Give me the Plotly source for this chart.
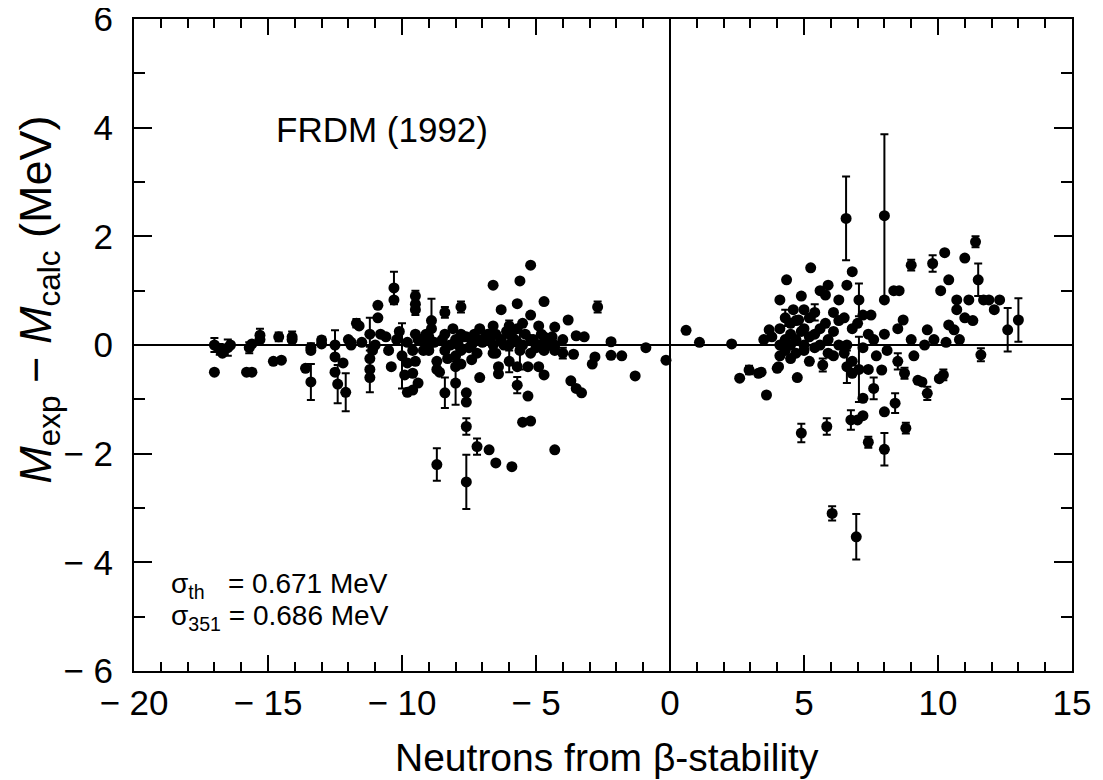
import plotly.graph_objects as go

# ---- data ----
# proton-rich side (negative neutron excess)
left_n = [-17.0,-17.0,-16.8,-16.7,-16.5,-16.4,-15.8,-15.6,-15.7,-15.6,-15.3,-15.3,
          -14.8,-14.5,-14.6,-14.1,-14.1,-13.6,-13.4,-13.4,-13.4,-13.0,-13.0,
          -12.5,-12.5,-12.5,-12.4,-12.2,-12.1,-11.9,-11.9,-11.7,-11.6,-12.0,-11.5,
          -11.2,-11.2,-11.2,-11.1,-11.2,-11.0,-10.9,-10.9,-10.8,-10.6,-10.5,
          -10.3,-10.3,-10.2,-10.4,-10.1,-10.0,-9.8,-9.8,-9.8,-9.9,
          -9.5,-9.5,-9.5,-9.6,-9.6,-9.4,-9.5,-9.6,-9.4,-9.5,
          -9.3,-9.2,-9.1,-9.0,-9.0,-9.0,-8.9,-8.9,-8.8,-8.7,-8.7,-8.6,-8.7,
          -8.5,-8.4,-8.4,-8.4,-8.3,-8.4,-8.2,-8.1,-8.0,-8.0,-8.0,-8.0,
          -7.9,-7.8,-7.8,-7.8,-7.8,-7.7,-7.6,-7.6,-7.6,-7.6,-7.6,-7.5,
          -7.4,-7.4,-7.4,-7.3,-7.2,-7.2,-7.2,-7.1,-7.1,-7.0,-6.9,-6.8,-6.75,-6.7,
          -6.6,-6.6,-6.6,-6.6,-6.5,-6.5,-6.5,-6.4,-6.4,-6.3,-6.3,-6.2,-6.1,
          -6.0,-6.0,-6.0,-6.0,-5.9,-5.9,-5.8,-5.7,-5.7,-5.7,-5.7,-5.7,-5.6,-5.6,
          -5.5,-5.5,-5.5,-5.4,-5.3,-5.3,-5.2,-5.2,-5.2,-5.2,-5.2,-5.1,-5.0,
          -4.9,-4.9,-4.9,-4.8,-4.7,-4.7,-4.7,-4.7,-4.6,-4.5,-4.4,-4.3,-4.3,-4.3,-4.3,
          -4.0,-4.0,-3.8,-3.7,-3.6,-3.5,-3.5,-3.3,-3.2,-2.9,-2.8,-2.7,-2.2,-2.2,
          -1.8,-1.3,-0.9,-0.15]
left_dm = [-0.50,0.00,-0.08,-0.15,-0.05,0.00,-0.50,-0.50,-0.05,0.02,0.18,0.10,
           -0.30,-0.28,0.15,0.15,0.10,-0.43,-0.10,-0.05,-0.68,0.09,0.02,
           0.00,-0.22,-0.50,-0.72,-0.33,-0.87,0.00,0.05,0.40,0.35,0.10,0.05,
           -0.45,0.20,-0.25,-0.10,-0.60,0.00,0.73,0.50,0.20,0.15,-0.10,
           1.05,0.83,0.10,-0.40,0.25,-0.20,-0.87,-0.33,0.05,-0.55,
           0.90,0.65,0.75,-0.83,-0.52,-0.70,-0.30,-0.10,0.10,0.20,
           0.10,-0.10,0.20,0.15,0.00,-0.10,0.30,0.45,0.05,-0.30,-0.45,-0.50,-2.20,
           0.10,0.60,0.20,-0.10,-0.25,-0.88,0.00,0.30,-0.70,0.10,-0.20,-0.40,
           0.00,0.70,0.20,-0.10,-0.35,0.15,-0.88,-1.05,-1.50,-2.52,0.15,-0.05,
           -0.27,0.00,0.10,0.20,-1.87,0.10,-0.15,-0.60,0.30,0.05,0.15,0.20,-1.93,0.10,
           1.10,0.35,0.00,-0.15,-2.17,-0.15,0.20,-0.53,-0.40,0.65,0.10,0.00,0.25,
           0.00,0.20,-0.30,0.35,-2.24,0.15,0.10,0.76,-0.74,-0.40,0.05,0.30,1.18,-0.10,
           -1.42,0.00,0.40,0.20,-0.94,-0.40,1.47,0.55,-1.40,-0.15,0.10,0.10,-0.05,
           0.35,-0.40,0.00,0.20,0.80,-0.55,0.15,-0.10,0.10,0.00,0.15,0.33,-1.93,0.00,-0.10,
           0.10,-0.15,0.46,-0.66,-0.17,0.17,-0.80,-0.88,0.15,-0.35,-0.22,0.70,0.06,-0.19,
           -0.20,-0.57,-0.05,-0.28]
left_err = [0,0.13,0.10,0,0.15,0,0,0,0.10,0,0.12,0,
            0,0,0.08,0.10,0,0,0,0.08,0.33,0.06,0,
            0.27,0,0,0.35,0,0.35,0,0,0.08,0,0,0,
            0.42,0.30,0,0,0,0,0,0,0,0,0,
            0.30,0,0,0,0,0.60,0,0,0,0,
            0.10,0.10,0,0,0,0,0,0,0,0,
            0,0,0,0,0,0,0,0.40,0,0,0,0,0.30,
            0,0.10,0,0,0,0.28,0,0,0.40,0,0,0,
            0,0.10,0,0,0,0,0,0,0.15,0.50,0,0,
            0,0,0,0,0.15,0,0,0,0,0,0,0,0,0,
            0,0,0,0,0,0,0,0,0,0,0,0,0,
            0,0,0.20,0.10,0,0,0,0,0.15,0,0,0,0,0.35,
            0,0,0,0,0,0,0,0,0,0,0,0,0,
            0,0,0,0,0,0,0,0,0,0,0,0,0,0,0,
            0,0.10,0,0,0,0,0,0,0,0,0,0.10,0,0,
            0,0,0,0]

# neutron-rich side (positive neutron excess)
right_n = [0.6,1.1,2.3,2.6,2.95,3.3,3.4,3.5,3.6,3.7,3.8,4.0,4.05,4.1,4.1,4.1,
           4.1,4.35,4.3,4.3,4.3,4.5,4.5,4.5,4.5,4.6,4.7,4.7,4.7,4.75,4.8,4.9,4.9,4.9,
           5.0,5.0,5.0,5.0,5.25,5.2,5.2,5.2,5.4,5.4,5.4,5.6,5.6,5.7,5.6,
           5.85,5.8,5.8,5.9,5.9,5.9,6.05,6.1,6.1,6.1,6.3,6.3,6.3,
           6.57,6.5,6.5,6.6,6.6,6.6,6.75,6.8,6.8,6.8,6.8,
           6.95,7.0,7.0,7.05,7.05,7.2,7.2,7.2,7.2,
           7.4,7.4,7.4,7.5,7.6,7.6,7.7,7.9,8.0,8.0,8.0,8.0,8.0,8.1,
           8.35,8.4,8.55,8.5,8.5,8.7,8.75,8.8,
           9.0,9.0,9.1,9.25,9.4,9.5,9.6,9.6,
           9.8,9.85,10.05,10.1,10.2,10.25,10.4,10.4,
           10.6,10.7,10.7,11.0,11.15,11.4,11.5,11.6,
           11.7,11.9,12.1,12.3,12.6,13.0,11.0,11.3,10.8,10.3]
right_dm = [0.27,0.05,0.02,-0.61,-0.46,-0.52,-0.50,0.10,-0.92,0.28,0.15,-0.43,-0.40,0.00,-0.20,0.30,
            0.83,1.20,0.10,-0.10,0.50,0.40,-0.25,0.20,0.00,0.65,-0.15,0.45,0.10,-0.60,0.46,-1.62,0.90,0.25,
            0.65,-0.10,0.30,0.00,1.42,0.50,-0.30,0.15,0.20,-0.05,0.60,0.00,0.30,-0.37,1.00,
            -1.50,0.92,0.40,1.10,0.10,-0.15,-3.10,0.60,-0.20,0.25,0.45,0.00,0.83,
            2.33,0.50,-0.15,1.10,0.00,-0.40,-1.38,-0.52,1.35,0.30,-0.30,
            -3.53,-1.38,0.40,-0.45,0.83,-0.98,-1.30,0.55,-0.05,
            -1.79,0.20,-0.45,0.55,-0.80,0.10,-0.20,-0.46,-1.92,-1.23,2.38,0.83,0.20,-0.10,
            1.00,-1.07,1.00,0.30,-0.30,0.46,-0.52,-1.53,
            1.47,0.10,-0.20,-0.65,-0.68,0.00,0.28,-0.89,
            1.50,0.10,-0.62,1.00,-0.55,1.70,1.20,0.37,
            0.28,0.83,0.65,1.60,0.83,1.90,1.20,-0.18,
            0.83,0.83,0.65,0.83,0.28,0.46,0.50,0.45,0.10,0.05]
right_err = [0,0,0,0,0.08,0,0,0,0,0,0,0,0,0,0,0,
             0,0,0,0,0.15,0,0,0,0,0,0,0,0,0,0,0.17,0,0,
             0,0,0,0,0,0,0,0,0,0,0.15,0,0,0.12,0,
             0.15,0,0,0,0,0,0.13,0,0,0,0,0,0,
             0.77,0,0,0,0,0.30,0.18,0,0,0,0,
             0.42,0,0,0.60,0.30,0,0,0,0,
             0.10,0,0,0,0.20,0,0,0,0.30,0,1.50,0,0,0,
             0,0.18,0,0,0.15,0,0.10,0.10,
             0.10,0,0,0,0,0,0,0.12,
             0.15,0,0,0,0.10,0,0,0,
             0,0,0,0,0,0.10,0.30,0.12,
             0,0,0,0,0.40,0.40,0,0,0,0]

x_ticks = [-20, -15, -10, -5, 0, 5, 10, 15]
x_ticktext = ["\u2212 20", "\u2212 15", "\u2212 10", "\u2212 5", "0", "5", "10", "15"]
y_ticks = [-6, -4, -2, 0, 2, 4, 6]
y_ticktext = ["\u2212 6", "\u2212 4", "\u2212 2", "0", "2", "4", "6"]

FONT = "Liberation Sans, Arial, Helvetica, sans-serif"

fig = go.Figure()
for xs, ys, es in [(left_n, left_dm, left_err), (right_n, right_dm, right_err)]:
    fig.add_trace(go.Scatter(
        x=xs, y=ys, mode="markers",
        marker=dict(color="black", size=11, line=dict(width=0)),
        error_y=dict(type="data", array=es, visible=True, color="black",
                     thickness=2, width=4),
        showlegend=False, hoverinfo="x+y"))

axis_common = dict(
    showgrid=False, showline=True, linecolor="black", linewidth=2,
    mirror="allticks", ticks="inside", tickcolor="black", tickwidth=2,
    tickfont=dict(family=FONT, size=35, color="black"),
    zeroline=True, zerolinecolor="black", zerolinewidth=2,
    automargin=False, ticklabeloverflow="allow",
)

fig.update_xaxes(
    range=[-20, 15], tickmode="array", tickvals=x_ticks, ticktext=x_ticktext,
    ticklen=16, ticklabelstandoff=0,
    minor=dict(ticks="inside", dtick=1, ticklen=9, tickwidth=2, tickcolor="black"),
    **axis_common)
fig.update_yaxes(
    range=[-6, 6], tickmode="array", tickvals=y_ticks, ticktext=y_ticktext,
    ticklen=18, ticklabelstandoff=12,
    minor=dict(ticks="inside", dtick=1, ticklen=11, tickwidth=2, tickcolor="black"),
    **axis_common)

fig.add_annotation(x=-10.75, y=3.96, xref="x", yref="y", text="FRDM (1992)",
                   xanchor="center", yanchor="middle",
                   showarrow=False, font=dict(family=FONT, size=35, color="black"))
fig.add_annotation(x=-18.7, y=-4.43, xref="x", yref="y", xanchor="left", yanchor="middle",
                   text="\u03c3<sub>th</sub>\u00a0\u00a0\u00a0= 0.671 MeV",
                   showarrow=False, font=dict(family=FONT, size=28, color="black"))
fig.add_annotation(x=-18.7, y=-5.02, xref="x", yref="y", xanchor="left", yanchor="middle",
                   text="\u03c3<sub>351</sub> = 0.686 MeV",
                   showarrow=False, font=dict(family=FONT, size=28, color="black"))

# axis titles (placed as annotations to match the reference positions)
fig.add_annotation(x=0.504, y=-0.132, xref="paper", yref="paper",
                   xanchor="center", yanchor="middle",
                   text="Neutrons from \u03b2-stability", showarrow=False,
                   font=dict(family=FONT, size=39, color="black"))
fig.add_annotation(x=-0.102, y=0.57, xref="paper", yref="paper", textangle=-90,
                   xanchor="center", yanchor="middle",
                   text="<i>M</i><sub>exp</sub> \u2212 <i>M</i><sub>calc</sub> (MeV)",
                   showarrow=False, font=dict(family=FONT, size=45, color="black"))

# the page body adds an 8px offset: size the figure so the axes land where the reference has them
fig.update_layout(
    width=1087, height=772,
    margin=dict(l=126, r=23, t=11, b=109),
    paper_bgcolor="white", plot_bgcolor="white",
    font=dict(family=FONT, color="black"),
)

fig.write_html("out.html")
